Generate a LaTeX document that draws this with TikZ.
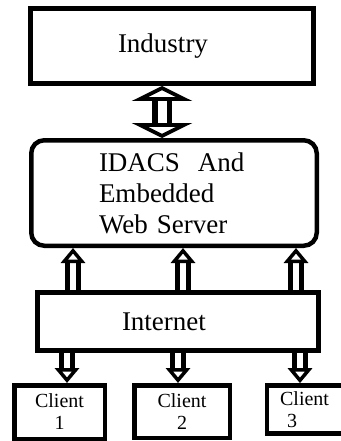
\documentclass[tikz,border=0pt]{standalone}
\usepackage{fontspec}
\setmainfont{Liberation Serif}
\usetikzlibrary{arrows.meta}

\tikzset{
  blockbox/.style={draw, line width=5pt, inner sep=0pt,
    font=\fontsize{27}{31}\selectfont},
  clientbox/.style={draw, line width=4.5pt, inner sep=0pt, align=center,
    font=\fontsize{20}{22}\selectfont},
  pipe/.style={double, line width=4.5pt, double distance=6.5pt,
    -{Triangle[open, width=24pt, length=15pt, line width=3.5pt]}},
  bigpipe/.style={double, line width=5.5pt, double distance=9pt,
    {Triangle[open, width=60pt, length=15pt, line width=5pt]}-{Triangle[open, width=60pt, length=15pt, line width=5pt]}},
}

\begin{document}
\begin{tikzpicture}[x=1pt,y=-1pt]
\useasboundingbox (0,0) rectangle (340,441);

% Main blocks
\node[blockbox, minimum width=283pt, minimum height=75pt,
  text width=108pt, align=left] (ind) at (172,46) {Industry};
\node[blockbox, line width=4.5pt, rounded corners=13pt, minimum width=285.5pt,
  minimum height=105.5pt, text width=150pt, align=left] (ws) at (174,193)
  {IDACS~ And\\Embedded\\Web Server};
\node[blockbox, minimum width=281pt, minimum height=58pt,
  text width=112pt, align=left] (inet) at (178,321.5) {Internet};

% Clients
\node[clientbox, minimum width=90.5pt, minimum height=53.5pt] (c1) at (59.5,412) {Client\\1};
\node[clientbox, minimum width=95.5pt, minimum height=52.5pt] (c2) at (182,411.5) {Client\\2};
\node[clientbox, minimum width=77pt, minimum height=48pt, text width=51pt,
  align=left] (c3) at (305.6,409.4) {Client\\\hspace*{7pt}3};

% Industry <-> web server
\coordinate (m) at (162,0);
\draw[bigpipe] (ind.south -| m) -- (ws.north -| m);

% Internet -> web server
\coordinate (u1) at (73,0);
\coordinate (u2) at (183,0);
\coordinate (u3) at (296,0);
\foreach \u in {u1,u2,u3}
  \draw[pipe] (inet.north -| \u) -- (ws.south -| \u);

% Internet -> clients
\coordinate (d1) at (67,0);
\coordinate (d2) at (178,0);
\coordinate (d3) at (300,0);
\foreach \d/\c in {d1/c1,d2/c2,d3/c3}
  \draw[pipe] (inet.south -| \d) -- (\c.north -| \d);

\end{tikzpicture}
\end{document}
